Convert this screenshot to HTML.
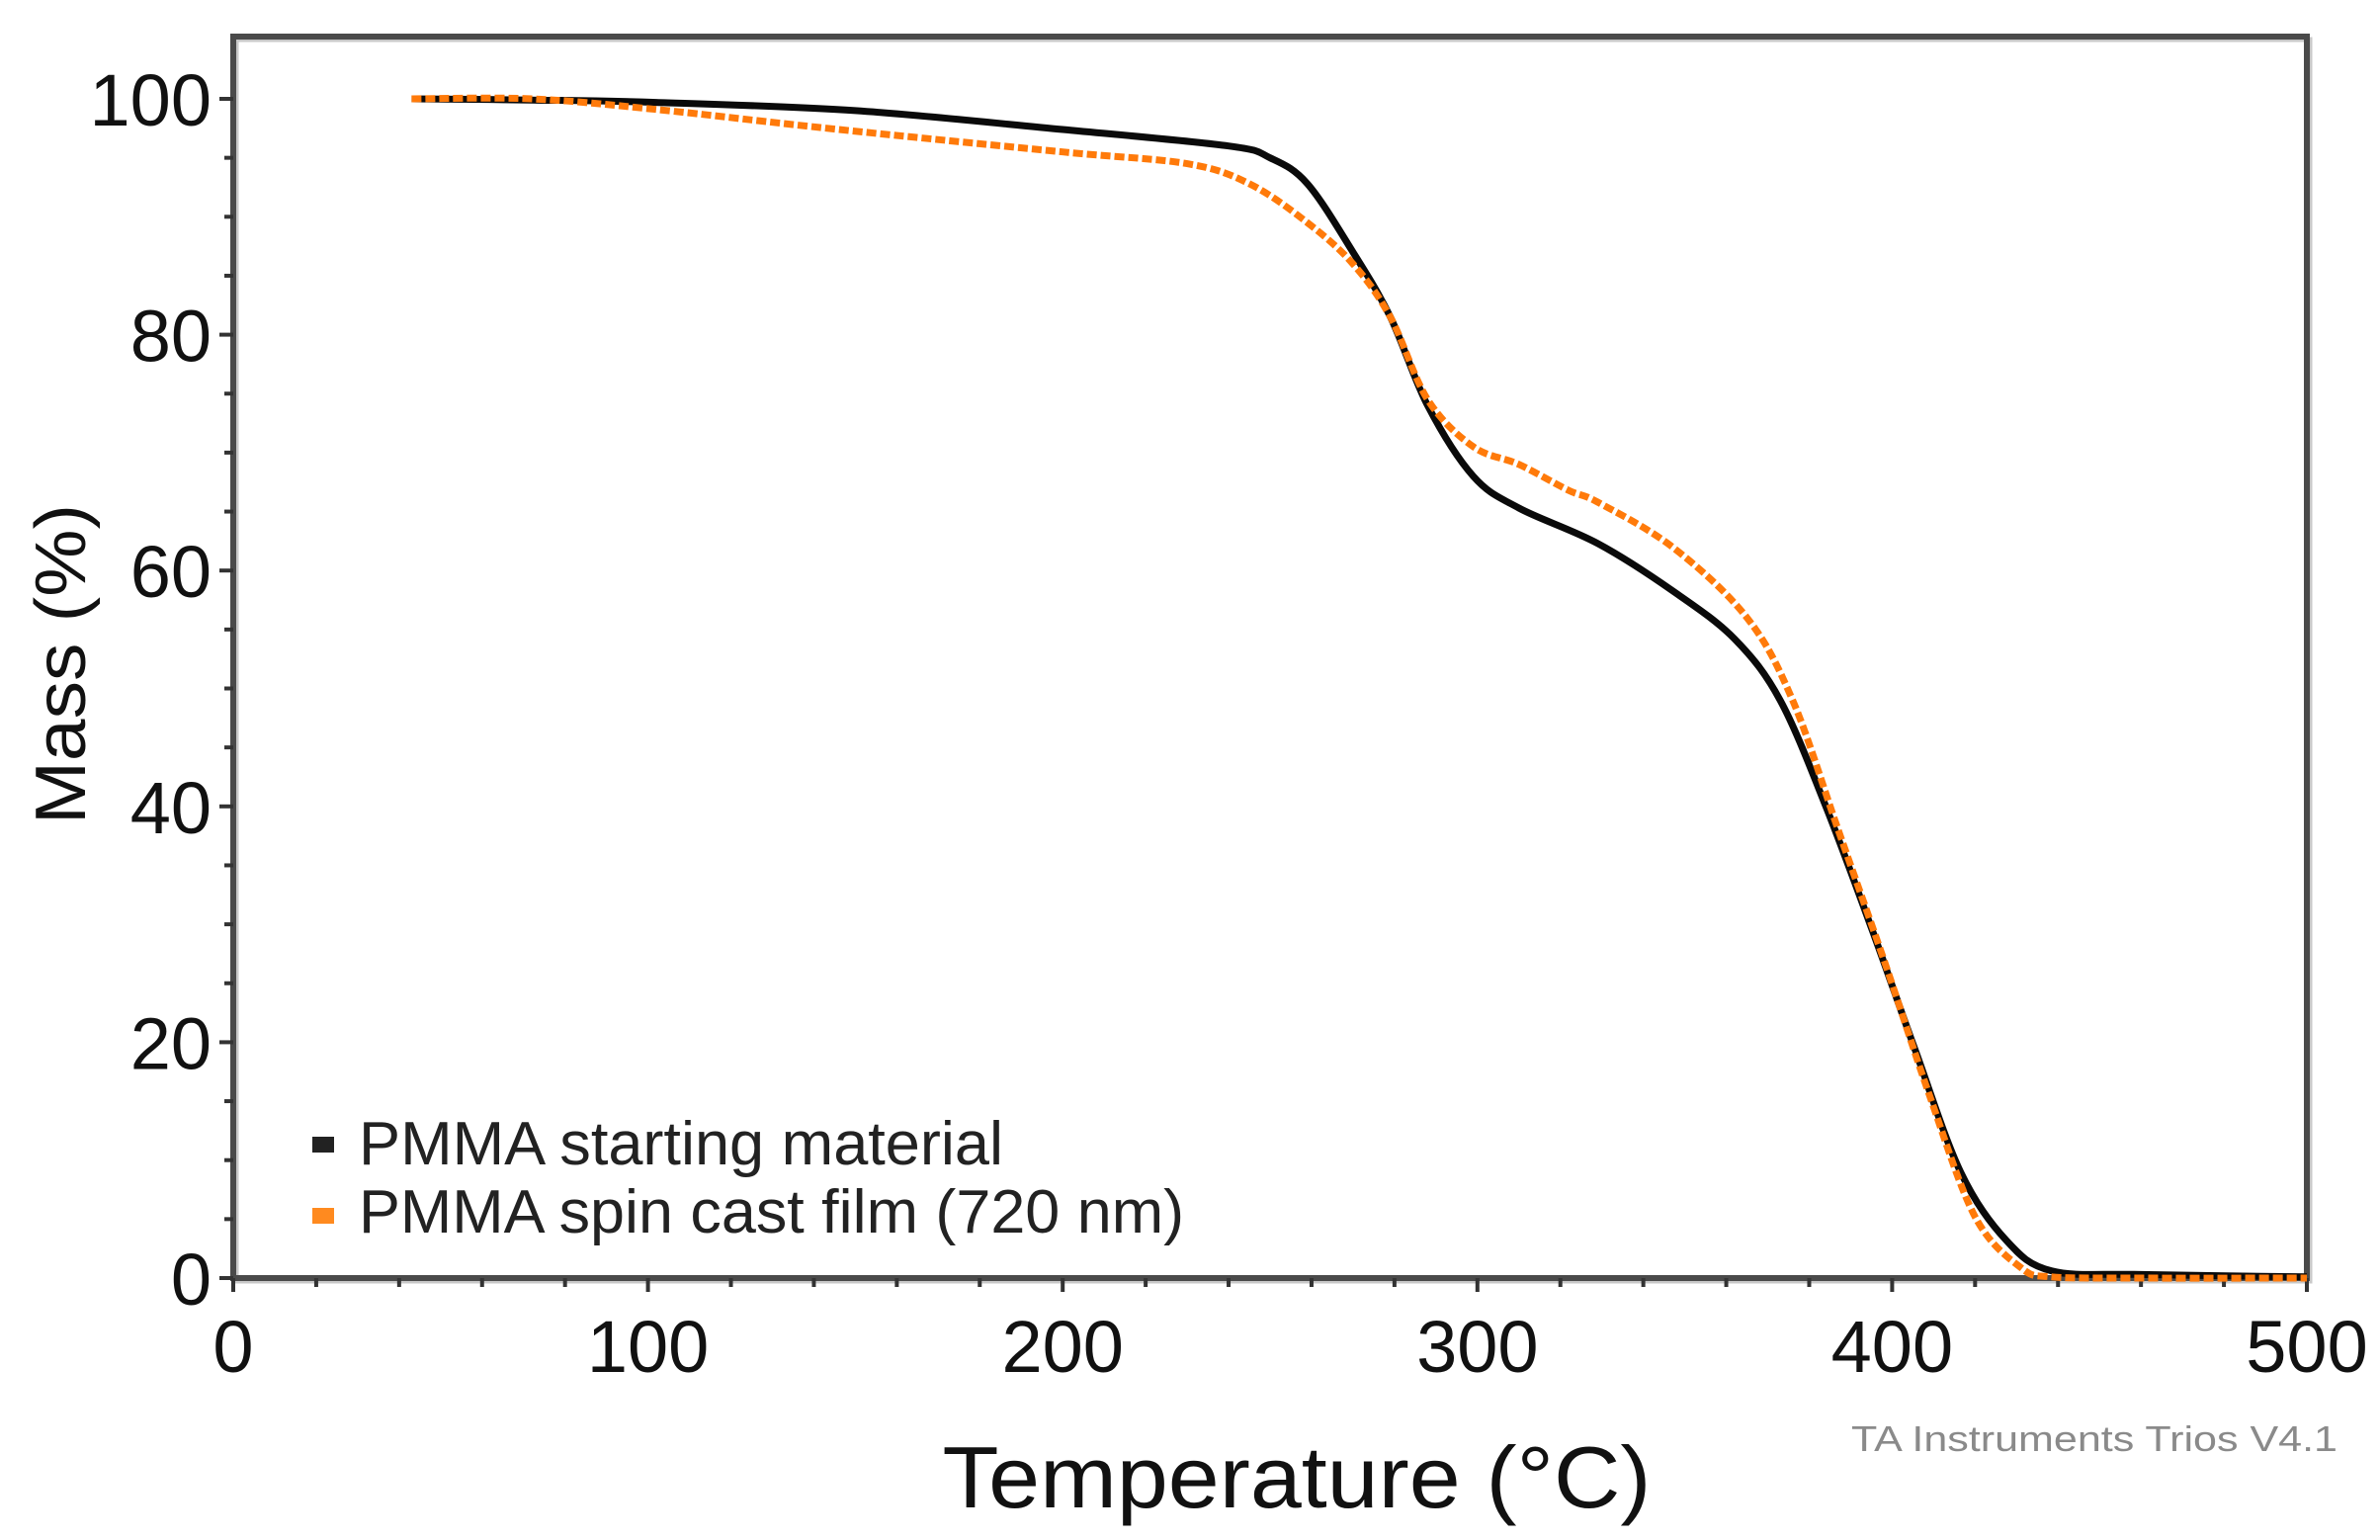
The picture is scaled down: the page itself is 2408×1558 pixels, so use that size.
<!DOCTYPE html>
<html><head><meta charset="utf-8"><style>
html,body{margin:0;padding:0;background:#fff;}
svg{display:block;font-family:"Liberation Sans",Arial,sans-serif;}
</style></head><body>
<svg id="chart" width="2408" height="1558" viewBox="0 0 2408 1558" xmlns="http://www.w3.org/2000/svg">
<g id="axes"></g>
<g id="series"></g>
<g>
  <rect x="316" y="1150" width="22" height="16" fill="#222"/>
  <text x="363" y="1178" font-size="62" fill="#222" textLength="652" lengthAdjust="spacingAndGlyphs">PMMA starting material</text>
  <rect x="316" y="1222" width="22" height="16" fill="#ff8a1f"/>
  <text x="363" y="1247" font-size="62" fill="#222" textLength="835" lengthAdjust="spacingAndGlyphs">PMMA spin cast film (720 nm)</text>
</g>
<text x="1312" y="1525" font-size="88" text-anchor="middle" fill="#111" textLength="717" lengthAdjust="spacingAndGlyphs">Temperature (°C)</text>
<text transform="translate(86,672) rotate(-90)" font-size="72" text-anchor="middle" fill="#111" textLength="324" lengthAdjust="spacingAndGlyphs">Mass (%)</text>
<text x="2365" y="1468" font-size="36" text-anchor="end" fill="#8a8a8a" textLength="492" lengthAdjust="spacingAndGlyphs">TA Instruments Trios V4.1</text>
</svg>
<script>
const xTicks = [0,100,200,300,400,500];
const yTicks = [0,20,40,60,80,100];
const tempStart = [43,72,102,150,200,240,250,259,270,279,288,299,310,329,347,362,373,384,395,405.5,416.5,427.5,438.5,460,500];
const massStart = [100,99.9,99.7,99.0,97.4,96.0,95.0,92.8,87.0,81.5,74.0,68.0,65.3,62.3,58.3,54.2,49.0,40.0,29.7,19.4,9.0,3.2,0.6,0.3,0.1];
const tempFilm = [43,72,102,146,200,230,245,259,270,279,288,299,310,322,329,347,365,376,387,398,409,420,431,438.5,460,500];
const massFilm = [100,100,99.1,97.4,95.5,94.5,92.8,89.5,86.0,81.5,74.5,70.5,69.0,66.8,65.8,62.0,56.0,49.0,38.0,27.0,15.5,5.2,0.9,0.1,0.0,0.0];

const L=236,R=2334,T=37,B=1293;
const xS=v=>L+(v-0)/(500-0)*(R-L);
const yS=v=>B-(v-0)/(100-0)*(B-100);
const NS="http://www.w3.org/2000/svg";
function mk(tag,attrs,parent){const e=document.createElementNS(NS,tag);for(const k in attrs)e.setAttribute(k,attrs[k]);parent.appendChild(e);return e;}
const axes=document.getElementById('axes');
let fr=mk('rect',{x:L+3,y:T+3,width:R-L,height:B-T,fill:'none',stroke:'#c8c8c8','stroke-width':5},axes);


let f=mk('rect',{x:L,y:T,width:R-L,height:B-T,fill:'none',stroke:'#4a4a4a','stroke-width':6},axes);


for(let v=0;v<=500;v+=20){const x=xS(v);const major=v%100===0;
 let t=mk('line',{x1:x,y1:B,x2:x,y2:B+(major?14:9),stroke:'#333','stroke-width':4},axes);
 
 }
for(let v=0;v<=100;v+=5){const y=yS(v);const major=v%20===0;
 let t=mk('line',{x1:L,y1:y,x2:L-(major?14:9),y2:y,stroke:'#333','stroke-width':4},axes);
 
 }
xTicks.forEach(v=>{let t=mk('text',{x:xS(v),y:1388,'font-size':74,'text-anchor':'middle',fill:'#111'},axes);t.textContent=String(v);
 
 });
yTicks.forEach(v=>{let t=mk('text',{x:214,y:yS(v)+27,'font-size':74,'text-anchor':'end',fill:'#111'},axes);t.textContent=String(v);
 
 });
function pathFrom(xs,ys){const p=xs.map((x,i)=>[xS(x),yS(ys[i])]);let d='M'+p[0][0]+','+p[0][1];
 for(let i=0;i<p.length-1;i++){const p0=p[Math.max(0,i-1)],p1=p[i],p2=p[i+1],p3=p[Math.min(p.length-1,i+2)];
  const c1=[p1[0]+(p2[0]-p0[0])/6,p1[1]+(p2[1]-p0[1])/6],c2=[p2[0]-(p3[0]-p1[0])/6,p2[1]-(p3[1]-p1[1])/6];
  d+=' C'+c1[0].toFixed(1)+','+c1[1].toFixed(1)+' '+c2[0].toFixed(1)+','+c2[1].toFixed(1)+' '+p2[0].toFixed(1)+','+p2[1].toFixed(1);}
 return d;}
const s=document.getElementById('series');
let l1=mk('path',{d:pathFrom(tempStart,massStart),fill:'none',stroke:'#0a0a0a','stroke-width':7,'stroke-linejoin':'round'},s);


let l2=mk('path',{d:pathFrom(tempFilm,massFilm),fill:'none',stroke:'#ff7a0a','stroke-width':7,'stroke-dasharray':'10 4'},s);


</script>
</body></html>
